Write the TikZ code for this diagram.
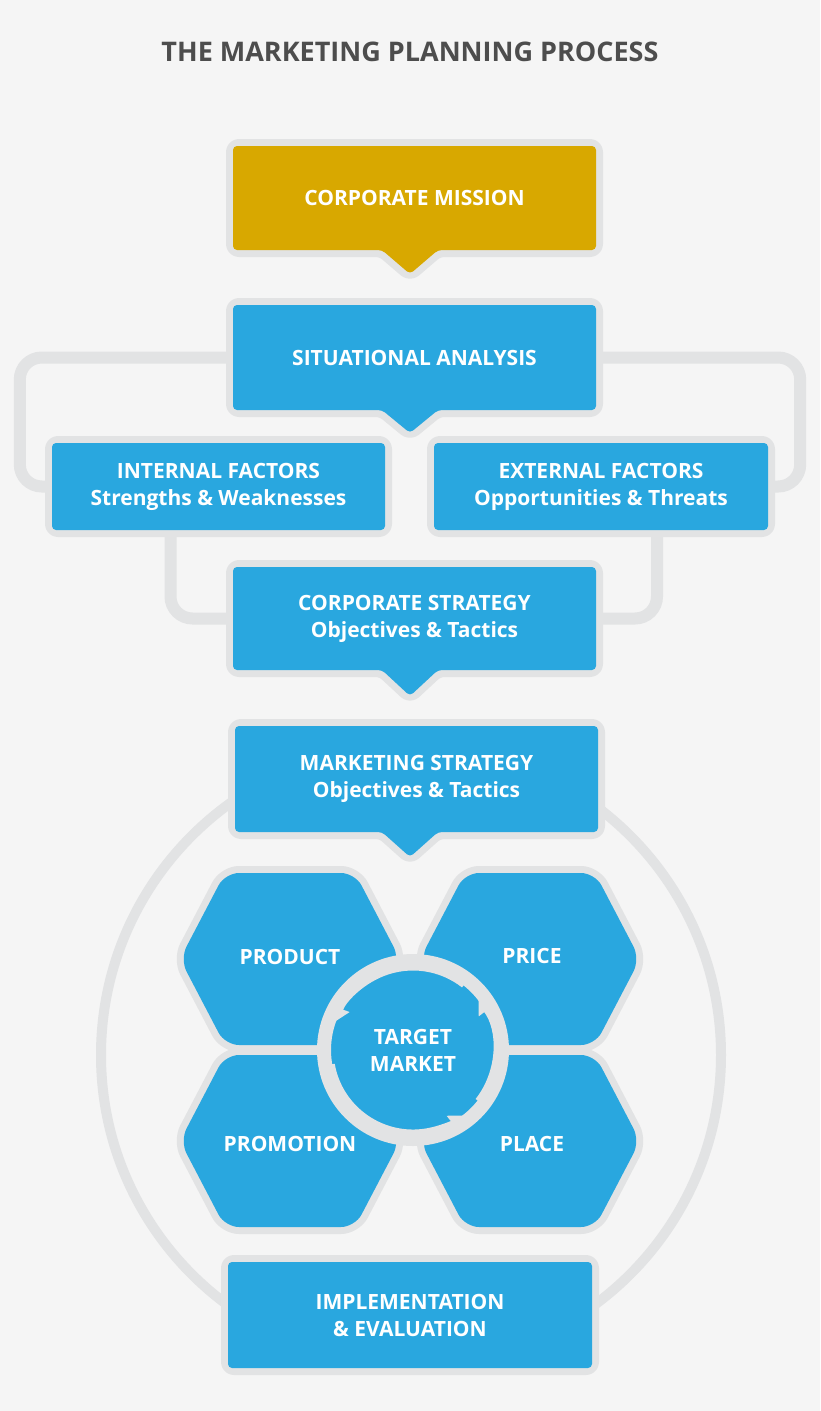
\documentclass[tikz,border=0pt]{standalone}
\usepackage{fontspec}
\setmainfont{Open Sans}
\usetikzlibrary{arrows.meta}
\definecolor{bg}{HTML}{F5F5F5}
\definecolor{gb}{HTML}{E2E3E4}
\definecolor{bl}{HTML}{29A7DF}
\definecolor{gd}{HTML}{D8A800}
\definecolor{tt}{HTML}{4D4D4D}
\newcommand{\bxpath}[5]{(#1,#2) -- (#3,#2) -- (#3,#4) -- (#5) -- (#1,#4) -- cycle}
\tikzset{
  lbl/.style={text=white,font=\bfseries\fontsize{21}{27}\selectfont,align=center,inner sep=0pt},
  frame/.style={draw=gb,line width=14pt,rounded corners=6pt,line join=round},
  conn/.style={draw=gb,line width=12pt,rounded corners=22pt},
}
\newcommand{\shapeA}[6]{% x1 y1 x2 y2 tipy color
  \ifx\relax#5\relax
    \path[frame] (#1,#2) rectangle (#3,#4);
    \path[fill=#6,rounded corners=4pt] (#1,#2) rectangle (#3,#4);
  \else
    \path[frame] (#1,#2) -- (#3,#2) -- (#3,#4) -- (438,#4) -- (410,#5) -- (382,#4) -- (#1,#4) -- cycle;
    \path[fill=#6,rounded corners=4pt] (#1,#2) -- (#3,#2) -- (#3,#4) -- (438,#4) -- (410,#5) -- (382,#4) -- (#1,#4) -- cycle;
  \fi}
\newcommand{\hexA}[2]{%
  \path[draw=gb,line width=14pt,line join=round,rounded corners=14pt,fill=bl]
   (#1-110,#2) -- (#1-65,#2-86) -- (#1+65,#2-86) -- (#1+110,#2) -- (#1+65,#2+86) -- (#1-65,#2+86) -- cycle;
  \path[fill=bl,rounded corners=14pt]
   (#1-110,#2) -- (#1-65,#2-86) -- (#1+65,#2-86) -- (#1+110,#2) -- (#1+65,#2+86) -- (#1-65,#2+86) -- cycle;}
\begin{document}
\begin{tikzpicture}[x=1pt,y=-1pt]
\fill[bg] (0,0) rectangle (820,1411);
\useasboundingbox (0,0) rectangle (820,1411);
\node[text=tt,font=\bfseries\fontsize{27}{30}\selectfont] (title) at (410,52) {THE MARKETING PLANNING PROCESS};
% big ring
\node[circle,draw=gb,line width=10pt,minimum size=620pt,inner sep=0pt] (ring) at (411,1055) {};
% text anchor nodes
\node[lbl,minimum width=363pt,minimum height=104pt] (cm) at (414.5,198) {CORPORATE MISSION};
\node[lbl,minimum width=363pt,minimum height=105pt] (sit) at (414.5,357.5) {SITUATIONAL ANALYSIS};
\node[lbl,minimum width=333pt,minimum height=87pt] (int) at (218.5,486.5) {INTERNAL FACTORS\\Strengths \& Weaknesses};
\node[lbl,minimum width=334pt,minimum height=87pt] (ext) at (601,486.5) {EXTERNAL FACTORS\\Opportunities \& Threats};
\node[lbl,minimum width=363pt,minimum height=103pt] (cs) at (414.5,618.5) {CORPORATE STRATEGY\\Objectives \& Tactics};
\node[lbl,minimum width=363pt,minimum height=106pt] (ms) at (416.5,779) {MARKETING STRATEGY\\Objectives \& Tactics};
\node[lbl,minimum width=364pt,minimum height=106pt] (imp) at (410,1315) {IMPLEMENTATION\\\& EVALUATION};
% connectors
\path[conn] (sit.west) -| ([xshift=-32pt]int.west) -- (int.west);
\path[conn] (sit.east) -| ([xshift=32pt]ext.east) -- (ext.east);
\path[conn] ([xshift=-48pt]int.south) |- (cs.west);
\path[conn] ([xshift=56pt]ext.south) |- (cs.east);
% boxes
\shapeA{233}{146}{596}{250}{274}{gd}
\shapeA{233}{305}{596}{410}{433}{bl}
\shapeA{52}{443}{385}{530}{}{bl}
\shapeA{434}{443}{768}{530}{}{bl}
\shapeA{233}{567}{596}{670}{696}{bl}
\shapeA{235}{726}{598}{832}{857}{bl}
\shapeA{228}{1262}{592}{1368}{}{bl}
\foreach \n in {cm,sit,int,ext,cs,ms,imp} {\node[lbl] at (\n) {\phantom{x}};}
\node[lbl] at (cm) {CORPORATE MISSION};
\node[lbl] at (sit) {SITUATIONAL ANALYSIS};
\node[lbl] at (int) {INTERNAL FACTORS\\Strengths \& Weaknesses};
\node[lbl] at (ext) {EXTERNAL FACTORS\\Opportunities \& Threats};
\node[lbl] at (cs) {CORPORATE STRATEGY\\Objectives \& Tactics};
\node[lbl] at (ms) {MARKETING STRATEGY\\Objectives \& Tactics};
\node[lbl] at (imp) {IMPLEMENTATION\\\& EVALUATION};
% hexagons
\hexA{290}{959}
\hexA{530}{959}
\hexA{290}{1141}
\hexA{530}{1141}
\node[lbl] (prod) at (290,957) {PRODUCT};
\node[lbl] (price) at (532,956) {PRICE};
\node[lbl] (prom) at (290,1144) {PROMOTION};
\node[lbl] (place) at (532,1144) {PLACE};
% center
\node[circle,fill=bl,draw=gb,line width=14pt,minimum size=178pt,inner sep=0pt] (tm) at (413,1050) {};
\node[circle,fill=bl,minimum size=156pt,inner sep=0pt] at (tm) {};
\node[lbl] at (tm) {TARGET\\MARKET};
\begin{scope}[draw=gb,line width=7pt,-{Triangle[length=14pt,width=20pt]}]
\draw (tm.center) ++(170:83) arc[start angle=170,end angle=52,radius=83];
\draw (tm.center) ++(38:83) arc[start angle=38,end angle=-38,radius=83];
\draw (tm.center) ++(-52:83) arc[start angle=-52,end angle=-160,radius=83];
\end{scope}
\end{tikzpicture}
\end{document}
